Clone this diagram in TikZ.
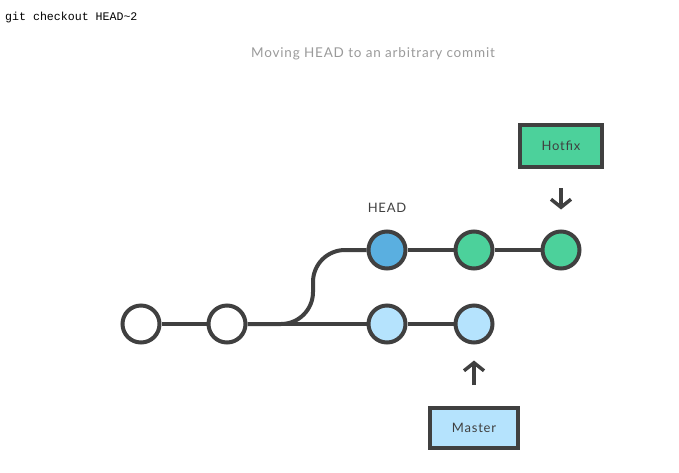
\documentclass[tikz,border=0pt]{standalone}
\usepackage{fontspec}
\setmainfont{Lato}[LetterSpace=6]
\newfontfamily\codefont{Liberation Mono}
\usetikzlibrary{arrows.meta}
\definecolor{ink}{HTML}{404040}
\definecolor{capgrey}{HTML}{9A9A9A}
\definecolor{lightblue}{HTML}{B5E3FD}
\definecolor{headblue}{HTML}{5AAFE0}
\definecolor{mint}{HTML}{4CD19B}
\tikzset{
  commit/.style={circle, draw=ink, line width=4pt, minimum size=37pt, inner sep=0pt},
  branchbox/.style={draw=ink, line width=4pt, minimum width=82pt, minimum height=42pt, inner sep=0pt, font=\fontsize{13}{15}\selectfont, text=ink},
  edge/.style={draw=ink, line width=4pt},
  ptr/.style={draw=ink, line width=3.5pt, -{Straight Barb[length=8pt,width=20pt]}},
}
\begin{document}
\begin{tikzpicture}[x=1pt,y=-1pt]
\useasboundingbox (0,0) rectangle (679,472);
\node[anchor=west, font=\codefont\fontsize{11.6}{13}\selectfont, inner sep=0pt] (cmd) at (5,17) {git checkout HEAD\textasciitilde 2};
\node[font=\fontsize{13.5}{15}\selectfont, text=capgrey] (cap) at (373,54) {Moving HEAD to an arbitrary commit};
\node[commit, fill=white] (c1) at (141,324) {};
\node[commit, fill=white] (c2) at (227,324) {};
\node[commit, fill=lightblue] (c4) at (387,324) {};
\node[commit, fill=lightblue] (c5) at (474,324) {};
\node[commit, fill=headblue] (c3) at (387,250) {};
\node[commit, fill=mint] (c6) at (474,250) {};
\node[commit, fill=mint] (c7) at (561,250) {};
\node[font=\fontsize{13}{15}\selectfont, text=ink] (headlbl) at (387,208) {HEAD};
\node[branchbox, fill=mint] (hotfix) at (561,146) {Hotfix};
\node[branchbox, fill=lightblue, minimum width=88pt, minimum height=40pt] (master) at (474,428) {Master};
\coordinate (bend) at (313,250);
\draw[edge] (c1) -- (c2);
\draw[edge] (c2) -- (c4);
\draw[edge] (c4) -- (c5);
\draw[edge] (c3) -- (c6);
\draw[edge] (c6) -- (c7);
\draw[edge, rounded corners=32pt] (c2.east) -| (bend) -- (c3.west);
\draw[ptr, shorten <=19pt, shorten >=20pt] (hotfix.south) -- (c7.north);
\draw[ptr, shorten <=21pt, shorten >=16pt] (master.north) -- (c5.south);
\end{tikzpicture}
\end{document}
